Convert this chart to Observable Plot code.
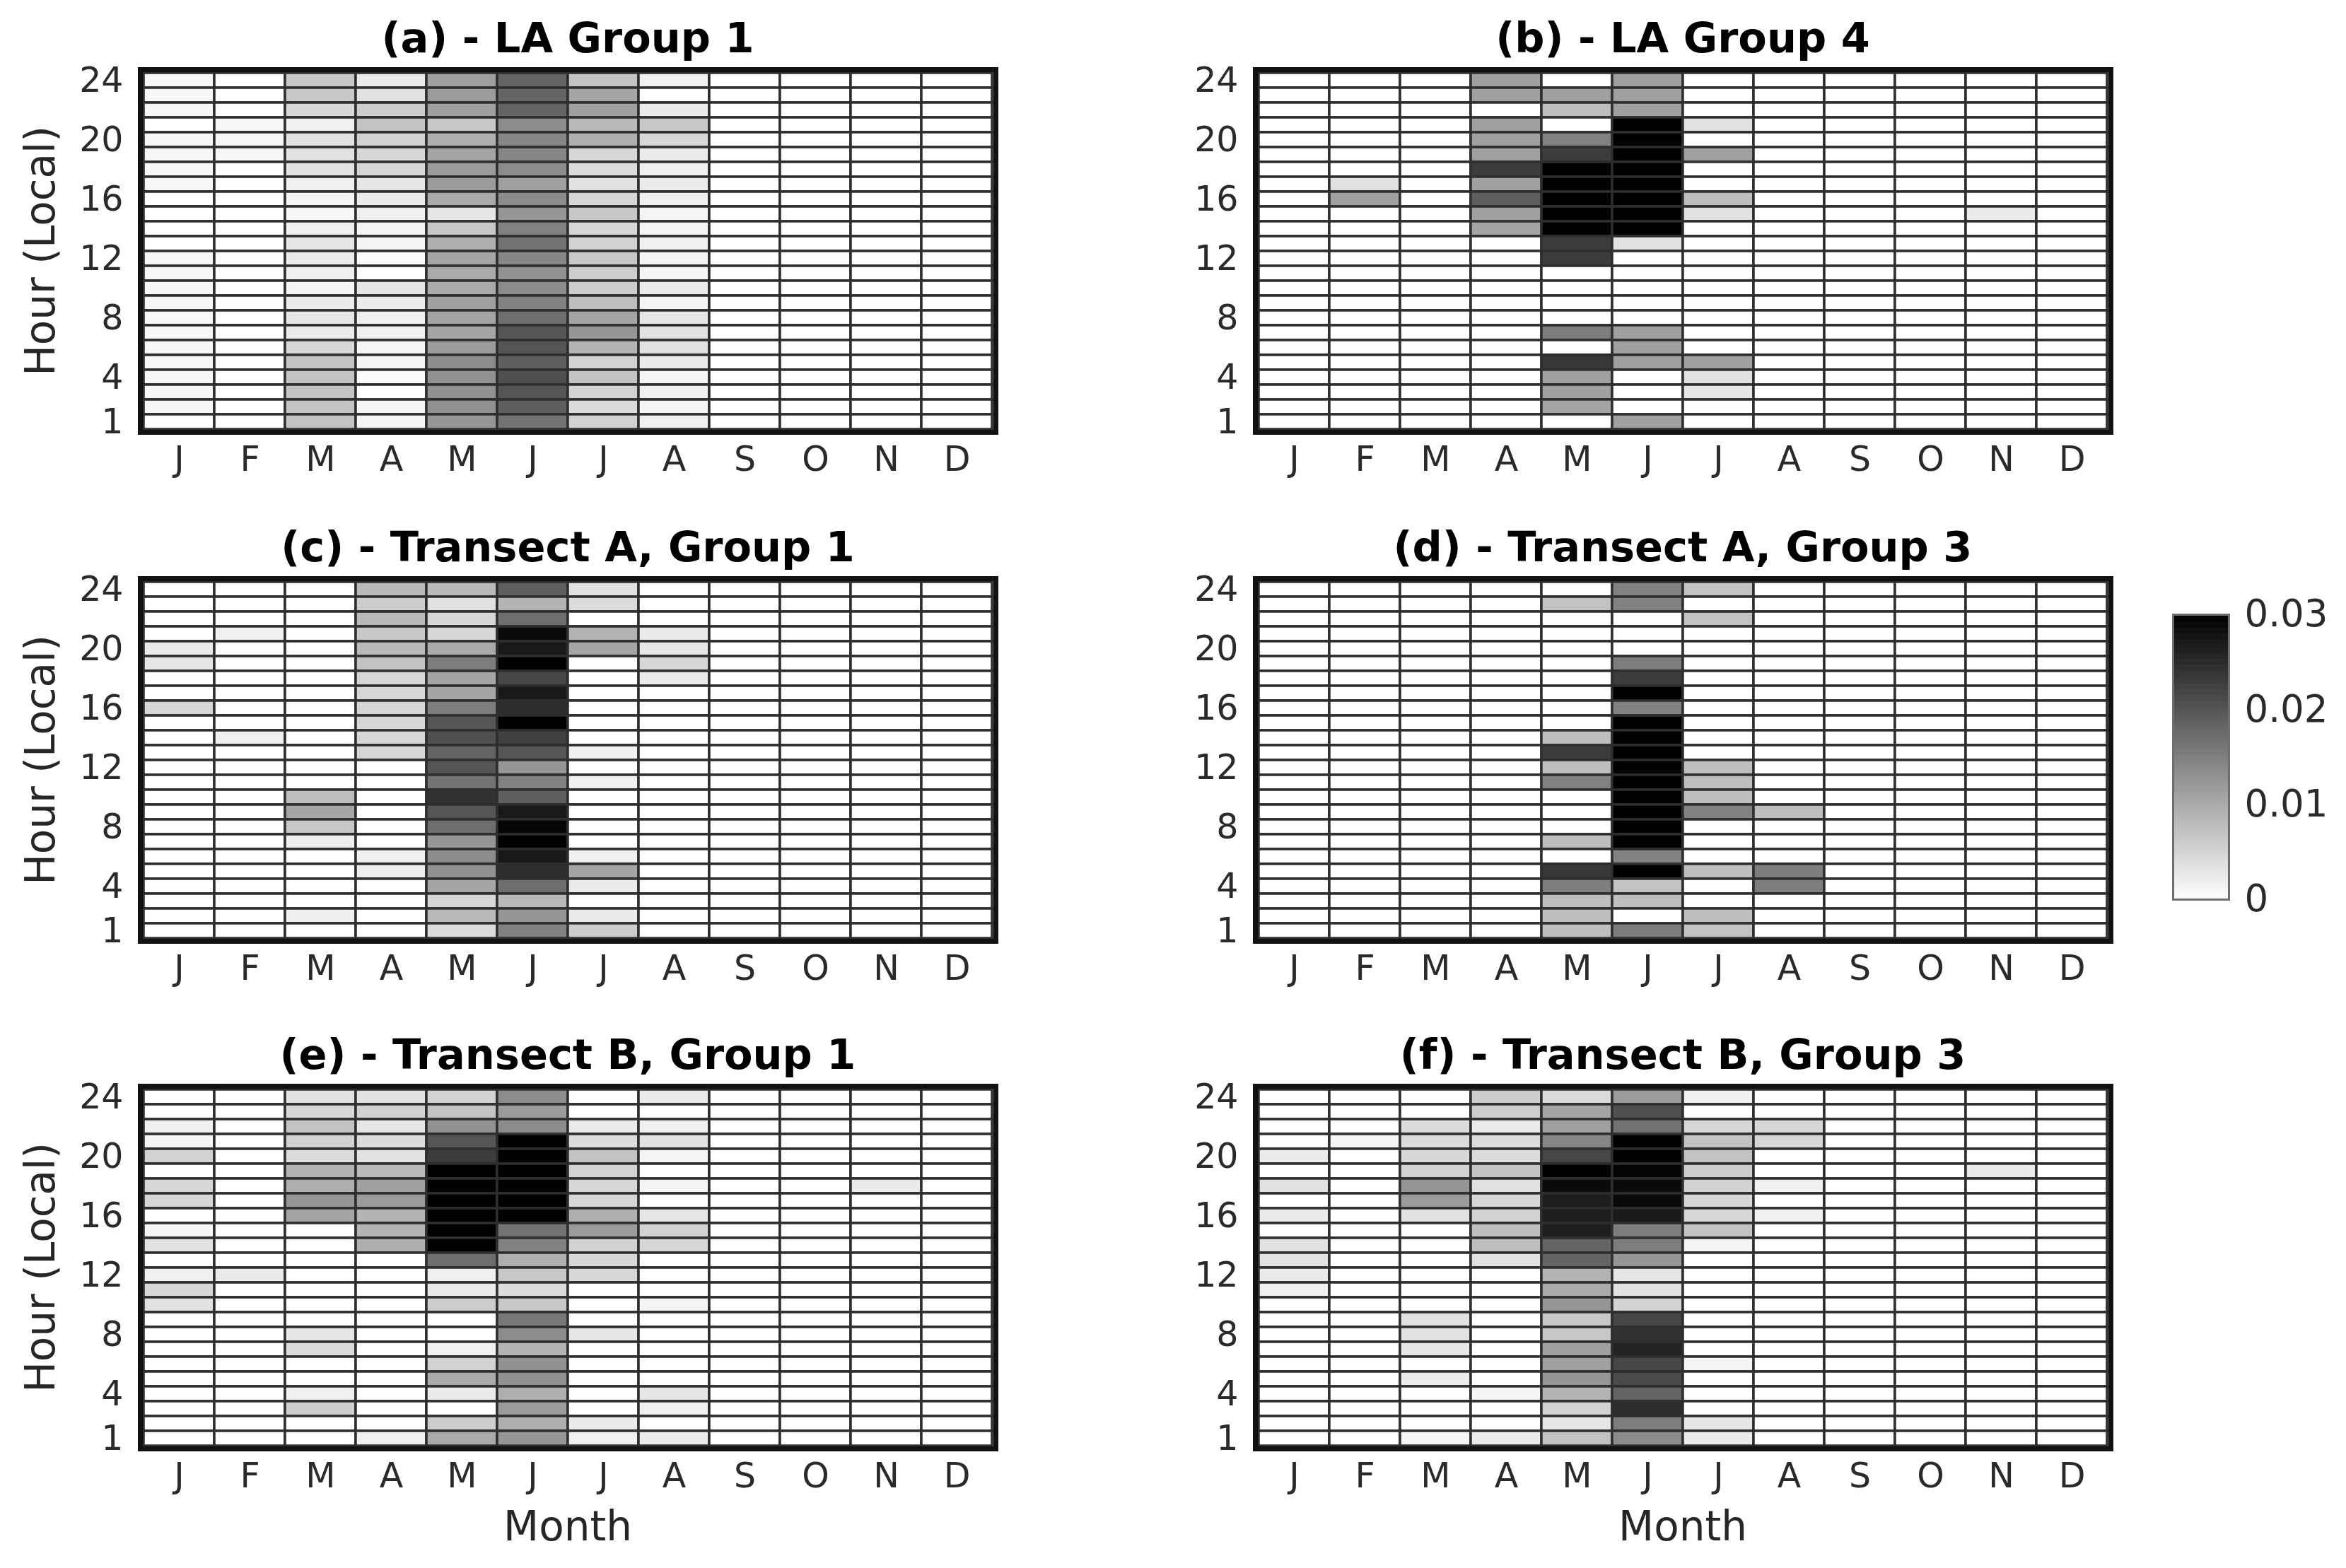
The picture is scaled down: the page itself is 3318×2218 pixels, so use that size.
<!DOCTYPE html>
<html>
<head>
<meta charset="utf-8">
<script src="https://cdn.jsdelivr.net/npm/d3@7"></script>
<script src="https://cdn.jsdelivr.net/npm/@observablehq/plot@0.6"></script>
<style>
  html, body { margin: 0; padding: 0; background: #fff; }
  #root { position: relative; width: 3318px; height: 2218px; overflow: hidden; font-family: "DejaVu Sans", sans-serif; background: #fff; }
  .abs { position: absolute; }
  .title { font-weight: bold; font-size: 59px; line-height: 1; color: #000; white-space: nowrap; transform: translateX(-50%); }
  .xlabel { font-size: 58px; line-height: 1; color: #262626; white-space: nowrap; transform: translateX(-50%); }
  .ylabel { font-size: 58px; line-height: 1; color: #262626; white-space: nowrap; transform: translate(-50%, -50%) rotate(-90deg); }
</style>
</head>
<body>
<div id="root"></div>
<script>
// ---------- data ----------
const monthLabels = ["J", "F", "M", "A", "M", "J", "J", "A", "S", "O", "N", "D"];
const monthIndex = [1, 2, 3, 4, 5, 6, 7, 8, 9, 10, 11, 12];
const hoursTopDown = [24, 23, 22, 21, 20, 19, 18, 17, 16, 15, 14, 13, 12, 11, 10, 9, 8, 7, 6, 5, 4, 3, 2, 1];
const hourTicks = [1, 4, 8, 12, 16, 20, 24];
const colorTicks = [0, 0.01, 0.02, 0.03];
const panelTitles = ["(a) - LA Group 1", "(b) - LA Group 4", "(c) - Transect A, Group 1",
                     "(d) - Transect A, Group 3", "(e) - Transect B, Group 1", "(f) - Transect B, Group 3"];

// rows: hour 24 (top) down to hour 1; columns: Jan..Dec
const laGroup1 = [
  [0.001,0,0.0065,0.0024,0.0112,0.0182,0.0071,0.0018,0,0,0,0],
  [0.001,0,0.0065,0.0035,0.0118,0.0182,0.0106,0,0,0,0,0],
  [0.001,0,0.0047,0.0059,0.0112,0.0182,0.0112,0.0024,0,0,0,0],
  [0,0.001,0.0018,0.0071,0.0065,0.0135,0.0082,0.0065,0,0,0,0],
  [0.001,0.001,0.0035,0.0053,0.0094,0.0141,0.0094,0.0047,0,0,0,0],
  [0.001,0.001,0.0035,0.0047,0.0106,0.0141,0.0047,0.0024,0,0,0,0],
  [0.001,0,0.0035,0.0047,0.0118,0.0135,0.0041,0.0018,0,0,0,0],
  [0.001,0,0.0018,0.0029,0.0118,0.0112,0.0035,0.0024,0,0,0,0],
  [0,0,0.0012,0.0024,0.01,0.0135,0.0047,0.0018,0,0,0,0],
  [0,0,0.0008,0.0018,0.0029,0.0124,0.0065,0.0012,0,0,0,0],
  [0,0,0.0018,0.0012,0.0065,0.0147,0.0047,0.0012,0,0,0,0],
  [0,0,0.0029,0.0012,0.0094,0.0165,0.0053,0.0018,0,0,0,0],
  [0.001,0,0.0024,0.0005,0.0106,0.0141,0.0065,0.0012,0,0,0,0],
  [0.001,0,0.0018,0,0.01,0.0129,0.0059,0.0012,0,0,0,0],
  [0.001,0,0.0012,0.0029,0.01,0.0135,0.0059,0.0024,0,0,0,0],
  [0.001,0,0.0024,0.0024,0.0112,0.0147,0.0076,0.0012,0,0,0,0],
  [0.001,0,0.0029,0.0018,0.0106,0.0171,0.0106,0.0029,0,0,0,0],
  [0.001,0,0.0024,0.0018,0.0106,0.02,0.0124,0.0035,0,0,0,0],
  [0.001,0,0.0047,0.0012,0.0118,0.02,0.0088,0.0035,0,0,0,0],
  [0.001,0,0.0071,0.0012,0.0135,0.0188,0.0053,0.0024,0,0,0,0],
  [0.001,0,0.0071,0.0005,0.0129,0.0206,0.0071,0.0012,0,0,0,0],
  [0.001,0,0.0071,0,0.0129,0.02,0.0053,0.0018,0,0,0,0],
  [0.001,0,0.0071,0.0012,0.0129,0.0188,0.0041,0.0012,0,0,0,0],
  [0,0,0.0071,0.0012,0.0124,0.0165,0.0053,0.0018,0,0,0,0]
];
const laGroup4 = [
  [0,0,0,0.0112,0,0.0112,0,0,0,0,0,0],
  [0,0,0,0.0112,0.0112,0.0112,0,0,0,0,0,0],
  [0,0,0,0,0.0076,0.0112,0,0,0,0,0,0],
  [0,0,0,0.0112,0,0.032,0.0035,0,0,0,0,0],
  [0,0,0,0.0112,0.0147,0.032,0,0,0,0,0,0],
  [0,0,0,0.0112,0.0229,0.032,0.0112,0,0,0,0,0],
  [0,0,0,0.0229,0.032,0.032,0,0,0,0,0,0],
  [0,0.0035,0,0.0112,0.032,0.032,0,0,0,0,0,0],
  [0,0.0112,0,0.0188,0.032,0.032,0.0076,0,0,0,0,0],
  [0,0,0,0.0112,0.032,0.032,0.0035,0,0,0,0.0024,0],
  [0,0,0,0.0106,0.032,0.032,0,0,0,0,0,0],
  [0,0,0,0,0.0229,0.0035,0,0,0,0,0,0],
  [0,0,0,0,0.0229,0,0,0,0,0,0,0],
  [0,0,0,0,0,0,0,0,0,0,0,0],
  [0,0,0,0,0,0,0,0,0,0,0,0],
  [0,0,0,0,0,0,0,0,0,0,0,0],
  [0,0,0,0,0,0,0,0,0,0,0,0],
  [0,0,0,0,0.0153,0.0112,0,0,0,0,0,0],
  [0,0,0,0,0,0.0112,0,0,0,0,0,0],
  [0,0,0,0,0.0235,0.0112,0.0112,0,0,0,0,0],
  [0,0,0,0,0.0112,0,0.0035,0,0,0,0,0],
  [0,0,0,0,0.0112,0,0.0029,0,0,0,0,0],
  [0,0,0,0,0.0106,0,0,0,0,0,0,0],
  [0,0,0,0,0,0.0112,0,0,0,0,0,0]
];
const transectAGroup1 = [
  [0,0,0,0.0082,0.0082,0.0188,0.0035,0,0,0,0,0],
  [0,0,0,0.0059,0.0035,0.0088,0.0041,0,0,0,0,0],
  [0,0,0,0.0082,0.0047,0.0171,0,0,0,0,0,0],
  [0,0.0018,0,0.0065,0.0047,0.0288,0.0088,0.0024,0,0,0,0],
  [0.0024,0,0,0.0082,0.01,0.0271,0.0106,0.0029,0,0,0,0],
  [0.0029,0,0,0.0071,0.0153,0.032,0,0.0047,0,0,0,0],
  [0,0,0,0.0047,0.0106,0.0218,0,0.0024,0,0,0,0],
  [0,0,0,0.0047,0.0106,0.0271,0,0,0,0,0,0],
  [0.0047,0,0,0.0047,0.0153,0.0247,0,0,0,0,0,0],
  [0,0,0,0.0047,0.02,0.032,0,0,0,0,0,0],
  [0,0.0018,0,0.0047,0.0206,0.0224,0,0,0,0,0,0],
  [0,0,0,0.0047,0.0182,0.02,0.0018,0,0,0,0,0],
  [0,0,0,0,0.02,0.0124,0,0,0,0,0,0],
  [0,0,0,0,0.0165,0.0147,0.0018,0,0,0,0,0],
  [0,0,0.0076,0,0.0241,0.0188,0,0,0,0,0,0],
  [0,0,0.0106,0,0.02,0.0271,0,0,0,0,0,0],
  [0,0,0.0065,0,0.0171,0.0294,0,0,0,0,0,0],
  [0,0,0.002,0,0.0124,0.032,0,0,0,0,0,0],
  [0,0,0,0.0018,0.0135,0.0271,0.0018,0,0,0,0,0],
  [0,0,0,0.002,0.0129,0.0247,0.0106,0,0,0,0,0],
  [0,0,0,0,0.0106,0.0171,0.0024,0,0,0,0,0],
  [0,0,0,0,0.0047,0.0082,0,0,0,0,0,0],
  [0,0,0.002,0,0.0082,0.0124,0.0024,0,0,0,0,0],
  [0,0,0,0,0.0041,0.0147,0.0059,0,0,0,0,0]
];
const transectAGroup3 = [
  [0,0,0,0,0,0.0147,0.0071,0,0,0,0,0],
  [0,0,0,0,0.0071,0.0147,0,0,0,0,0,0],
  [0,0,0,0,0,0,0.0071,0,0,0,0,0],
  [0,0,0,0,0,0,0,0,0,0,0,0],
  [0,0,0,0,0,0,0,0,0,0,0,0],
  [0,0,0,0,0,0.0153,0,0,0,0,0,0],
  [0,0,0,0,0,0.0229,0,0,0,0,0,0],
  [0,0,0,0,0,0.032,0,0,0,0,0,0],
  [0,0,0,0,0,0.0147,0,0,0,0,0,0],
  [0,0,0,0,0,0.032,0,0,0,0,0,0],
  [0,0,0,0,0.0076,0.032,0,0,0,0,0,0],
  [0,0,0,0,0.0229,0.032,0,0,0,0,0,0],
  [0,0,0,0,0.0076,0.032,0.0076,0,0,0,0,0],
  [0,0,0,0,0.0147,0.032,0.0076,0,0,0,0,0],
  [0,0,0,0,0,0.032,0.0076,0,0,0,0,0],
  [0,0,0,0,0,0.032,0.0147,0.0076,0,0,0,0],
  [0,0,0,0,0,0.032,0,0,0,0,0,0],
  [0,0,0,0,0.0076,0.032,0,0,0,0,0,0],
  [0,0,0,0,0,0.0147,0,0,0,0,0,0],
  [0,0,0,0,0.0235,0.032,0.0076,0.0153,0,0,0,0],
  [0,0,0,0,0.0153,0.0071,0,0.0153,0,0,0,0],
  [0,0,0,0,0.0076,0.0076,0,0,0,0,0,0],
  [0,0,0,0,0.0076,0,0.0076,0,0,0,0,0],
  [0,0,0,0,0.0076,0.0153,0.0071,0,0,0,0,0]
];
const transectBGroup1 = [
  [0,0,0.0035,0.0035,0.0053,0.0135,0,0.0024,0,0,0,0],
  [0,0,0.0047,0.0053,0.0071,0.0118,0,0,0,0,0,0],
  [0.0018,0,0.0071,0.0029,0.0129,0.0135,0.0024,0.0018,0,0,0,0],
  [0.0012,0,0.0053,0.0041,0.02,0.032,0.0041,0.0035,0,0,0,0],
  [0.0053,0,0.0041,0.0035,0.0229,0.032,0.0071,0.0012,0,0,0,0],
  [0,0,0.0088,0.0082,0.032,0.032,0.0053,0,0,0,0,0],
  [0.0047,0,0.0094,0.0112,0.032,0.032,0.0047,0.0012,0,0,0.0024,0],
  [0.0047,0,0.0124,0.0118,0.032,0.032,0.0047,0,0,0,0,0],
  [0,0,0.0106,0.0088,0.032,0.032,0.0094,0.0029,0,0,0,0],
  [0.0012,0,0,0.0088,0.032,0.0165,0.0118,0.0053,0,0,0,0],
  [0.0035,0,0,0.0094,0.032,0.0147,0.0053,0.0047,0,0,0,0],
  [0,0,0,0,0.0171,0.0094,0.0047,0,0,0,0,0],
  [0.0018,0.0024,0,0,0.0018,0.0065,0.0047,0,0,0,0,0],
  [0.0047,0,0,0,0.0024,0.0041,0,0,0,0,0,0],
  [0.0035,0,0,0,0.0059,0.0065,0,0.0012,0,0,0,0],
  [0,0,0,0,0,0.0159,0,0,0,0,0,0],
  [0,0,0.0029,0,0,0.0135,0.0029,0,0,0,0,0],
  [0,0,0.0041,0,0.0018,0.0088,0,0,0,0,0,0],
  [0,0,0,0,0.0053,0.0129,0,0,0,0,0,0],
  [0,0,0,0,0.01,0.0129,0,0,0,0,0,0],
  [0,0,0.0018,0,0.0024,0.0094,0,0.0029,0,0,0,0],
  [0,0,0.0059,0,0,0.0118,0,0.0018,0,0,0,0],
  [0,0,0,0,0.0059,0.0094,0.0024,0,0,0,0,0],
  [0,0,0,0.0018,0.01,0.0124,0.0018,0.0024,0,0,0,0]
];
const transectBGroup3 = [
  [0,0,0,0.0059,0.0041,0.0118,0.0018,0,0,0,0,0],
  [0,0,0,0.0059,0.0106,0.0206,0,0,0,0,0,0],
  [0,0,0.0041,0.0024,0.0112,0.0165,0.0047,0.0047,0,0,0,0],
  [0,0.0012,0.0041,0.0041,0.0141,0.032,0.0071,0.0047,0,0,0,0],
  [0.0024,0,0.0047,0.0041,0.0218,0.032,0.0071,0,0,0,0,0],
  [0,0,0.0053,0.0071,0.032,0.0294,0.0059,0,0,0,0.0024,0],
  [0.0035,0,0.0124,0.0035,0.0288,0.0288,0.0053,0.0018,0,0,0,0],
  [0,0,0.0118,0.0047,0.0265,0.0288,0.0047,0,0,0,0,0],
  [0.0024,0,0.0035,0.0053,0.0265,0.0271,0.0047,0.0018,0,0,0,0],
  [0,0,0,0.0076,0.0265,0.0153,0.0071,0,0,0,0,0],
  [0.0035,0,0,0.0076,0.0182,0.0153,0.0012,0,0,0,0,0],
  [0.0035,0,0,0.0035,0.0182,0.0124,0,0,0,0,0,0],
  [0.0024,0,0,0,0.0088,0.0029,0,0,0,0,0,0],
  [0.0018,0,0,0,0.01,0.0035,0,0,0,0,0,0],
  [0,0,0,0,0.0124,0.0053,0,0,0,0,0,0],
  [0,0,0.0035,0,0.0065,0.0218,0,0,0,0,0,0],
  [0,0,0.0035,0,0.0065,0.0241,0,0,0,0,0,0],
  [0,0,0.0029,0,0.0112,0.0259,0,0,0,0,0,0],
  [0,0,0,0,0.0112,0.0218,0.0012,0,0,0,0,0],
  [0,0,0.0024,0,0.0124,0.0212,0,0,0,0,0,0],
  [0,0,0,0.0012,0.0088,0.0182,0,0,0,0,0,0],
  [0,0,0,0,0.0053,0.0247,0,0,0,0,0,0],
  [0,0,0,0,0.0029,0.0153,0.0029,0,0,0,0,0],
  [0,0,0.0012,0.0024,0.0071,0.0135,0.0024,0,0,0,0,0]
];

// ---------- layout ----------
const root = document.getElementById("root");
const PW = 1210, PH = 513;
const ML = 198, MR = 12, MT = 12, MB = 90;
const colLeft = [198, 1775];
const rowTop = [98, 818, 1536];
const matrices = [laGroup1, laGroup4, transectAGroup1, transectAGroup3, transectBGroup1, transectBGroup3];
const colorScale = { type: "linear", domain: [0, 0.03], range: ["#ffffff", "#000000"], clamp: true };

function place(el, left, top) {
  el.style.position = "absolute";
  el.style.left = left + "px";
  el.style.top = top + "px";
  root.appendChild(el);
}
function addText(cls, text, left, top) {
  const d = document.createElement("div");
  d.className = "abs " + cls;
  d.textContent = text;
  d.style.left = left + "px";
  d.style.top = top + "px";
  root.appendChild(d);
}

matrices.forEach((matrix, k) => {
  const col = k % 2, row = Math.floor(k / 2);
  const cells = matrix.flatMap((r, i) => r.map((v, j) => ({ month: monthIndex[j], hour: hoursTopDown[i], value: v })));
  const chart = Plot.plot({
    width: ML + PW + MR, height: MT + PH + MB,
    marginLeft: ML, marginRight: MR, marginTop: MT, marginBottom: MB,
    style: { fontFamily: "DejaVu Sans", fontSize: "49px", color: "#2a2a2a", background: "transparent" },
    x: { type: "band", domain: monthIndex, padding: 0, tickFormat: d => monthLabels[d - 1], tickSize: 0, tickPadding: 20, label: null },
    y: { type: "band", domain: hoursTopDown, padding: 0, ticks: hourTicks, tickSize: 0, tickPadding: 24, label: null },
    color: colorScale,
    marks: [
      Plot.cell(cells, { x: "month", y: "hour", fill: "value", stroke: "#2e2e2e", strokeWidth: 3.5 }),
      Plot.frame({ stroke: "#111", strokeWidth: 7 })
    ]
  });
  place(chart, colLeft[col] - ML, rowTop[row] - MT);
  const cx = colLeft[col] + PW / 2;
  addText("title", panelTitles[k], cx, rowTop[row] - 24 - 50);
  if (col === 0) addText("ylabel", "Hour (Local)", 57, rowTop[row] + PH / 2);
  if (row === 2) addText("xlabel", "Month", cx, 2130);
});

// ---------- colorbar ----------
const cbSteps = d3.range(0, 0.03, 0.0002);
const cbar = Plot.plot({
  width: 10 + 79 + 160, height: 40 + 403 + 40,
  marginLeft: 10, marginRight: 160, marginTop: 40, marginBottom: 40,
  style: { fontFamily: "DejaVu Sans", fontSize: "53px", color: "#2a2a2a", background: "transparent" },
  x: { domain: [0, 1], axis: null },
  y: { domain: [0, 0.03], axis: "right", ticks: colorTicks, tickFormat: d => d === 0 ? "0" : d3.format(".2f")(d), tickSize: 0, tickPadding: 22, label: null },
  color: colorScale,
  marks: [
    Plot.rect(cbSteps, { x1: 0, x2: 1, y1: d => d, y2: d => d + 0.0002, fill: d => d + 0.0001, inset: -0.3 }),
    Plot.frame({ stroke: "#6e6e6e", strokeWidth: 3 })
  ]
});
place(cbar, 3073 - 10, 869 - 40);
</script>
</body>
</html>
